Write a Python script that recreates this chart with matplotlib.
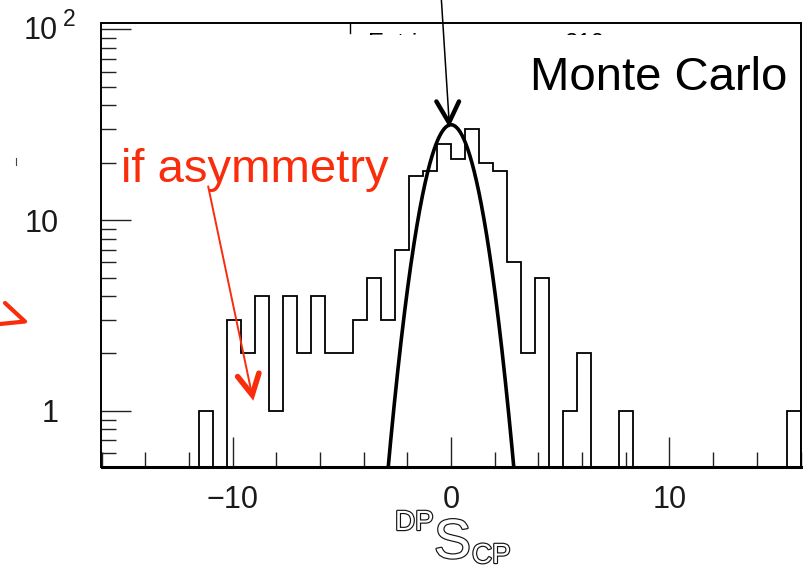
import numpy as np
import matplotlib
matplotlib.use("Agg")
import matplotlib.pyplot as plt
from matplotlib.lines import Line2D
from matplotlib.patches import Rectangle
from matplotlib.transforms import IdentityTransform
from matplotlib.ticker import FixedLocator, MultipleLocator, LogLocator, NullFormatter
import matplotlib.patheffects as pe

# ---------------- data ----------------
x_low = -16.0
x_high = 16.0
n_bins = 50
counts = [0, 0, 0, 0, 0, 0, 0, 1, 0, 3,
          2, 4, 1, 4, 2, 4, 2, 2, 3, 5,
          3, 7, 17, 18, 25, 21, 30, 20, 18, 6,
          2, 5, 0, 1, 2, 0, 0, 1, 0, 0,
          0, 0, 0, 0, 0, 0, 0, 0, 0, 1]
gauss_amp = 31.6
gauss_mean = 0.0
gauss_sigma = 1.0
y_low = 0.508
y_high = 107.5
x_major = [-10, 0, 10]
x_major_labels = ["\u221210", "0", "10"]
y_major = [1, 10, 100]
y_major_labels = ["1", "10", ""]

W, H = 809, 570
plt.rcParams["font.family"] = ["Liberation Sans", "DejaVu Sans"]

fig = plt.figure(figsize=(W / 100, H / 100), dpi=100)
fig.patch.set_facecolor("white")
L, R, T, B = 101.5, 800.5, 23.3, 467.0
ax = fig.add_axes([L / W, 1 - B / H, (R - L) / W, (B - T) / H])
ax.set_yscale("log")
ax.set_xlim(x_low, x_high)
ax.set_ylim(y_low, y_high)

edges = np.linspace(x_low, x_high, n_bins + 1)
vals = np.maximum(np.array(counts, dtype=float), y_low)
ax.stairs(vals, edges, baseline=y_low, color="black", lw=1.3, zorder=3)

xs = np.linspace(x_low, x_high, 2000)
ys = gauss_amp * np.exp(-0.5 * ((xs - gauss_mean) / gauss_sigma) ** 2)
ax.plot(xs, ys, color="black", lw=2.6, zorder=4)

# axes styling
for s in ["top", "left", "right"]:
    ax.spines[s].set_linewidth(1.4)
ax.spines["bottom"].set_linewidth(2.2)

ax.xaxis.set_major_locator(FixedLocator(x_major))
ax.set_xticklabels(x_major_labels)
ax.xaxis.set_minor_locator(MultipleLocator(2))
ax.yaxis.set_major_locator(FixedLocator(y_major))
ax.set_yticklabels(y_major_labels)
ax.yaxis.set_minor_locator(LogLocator(base=10, subs=np.arange(2, 10)))
ax.yaxis.set_minor_formatter(NullFormatter())

ax.tick_params(axis="both", which="both", direction="in", color="#222222", width=1.0,
               top=False, right=False)
ax.tick_params(axis="both", which="major", length=21.6, labelsize=22, labelcolor="#1a1a1a")
ax.tick_params(axis="both", which="minor", length=10.5)
ax.tick_params(axis="x", which="major", pad=13)
ax.tick_params(axis="y", which="major", pad=31)

ident = IdentityTransform()

# 10^2 label
fig.text(57.5 / W, 1 - 31 / H, "10", fontsize=22, color="#1a1a1a", ha="right", va="center")
fig.text(62.5 / W, 1 - 26.5 / H, "2", fontsize=16.5, color="#1a1a1a", ha="left", va="baseline")

# obscured stats box fragments
fig.text(368 / W, 1 - 49.5 / H, "Entries", fontsize=17.3, color="black", ha="left",
         va="baseline", zorder=5)
fig.text(605 / W, 1 - 49.5 / H, "210", fontsize=17.3, color="black", ha="right",
         va="baseline", zorder=5)
fig.add_artist(Rectangle((356, H - 60), 270, 25.5, transform=ident,
                         facecolor="white", edgecolor="none", zorder=6))
fig.add_artist(Line2D([350, 350], [H - 24, H - 33], transform=ident, color="black",
                      lw=1.0, zorder=7))

# Monte Carlo label
fig.text(530 / W, 1 - 90 / H, "Monte Carlo", fontsize=34, color="black", ha="left",
         va="baseline", zorder=7)

# red annotation text
red = "#f92d0c"
fig.text(121 / W, 1 - 182 / H, "if asymmetry", fontsize=34, color=red, ha="left",
         va="baseline", zorder=7)

# black arrow to gaussian peak
tx, ty = ax.transData.transform((gauss_mean, gauss_amp))
tip = (tx - 2, ty + 2)
fig.add_artist(Line2D([tip[0] - 7.6, tip[0]], [H, tip[1] + 3], transform=ident,
                      color="black", lw=1.1, zorder=8))
fig.add_artist(Line2D([tip[0] - 12.6, tip[0], tip[0] + 10],
                      [tip[1] + 21.3, tip[1], tip[1] + 21.3], transform=ident,
                      color="black", lw=3.2, solid_capstyle="round",
                      solid_joinstyle="miter", zorder=8))

# red arrow
rx, ry = ax.transData.transform((-9.1, 1.213))
fig.add_artist(Line2D([rx - 44, rx - 1], [ry + 208.3, ry + 4], transform=ident,
                      color=red, lw=1.4, zorder=8))
fig.add_artist(Line2D([rx - 14.6, rx, rx + 6.7], [ry + 18.3, ry, ry + 21.7],
                      transform=ident, color=red, lw=4.0, solid_capstyle="round",
                      solid_joinstyle="miter", zorder=8))

# stray fragments at the left margin
fig.add_artist(Line2D([16, 16], [H - 158, H - 165], transform=ident, color="#444444",
                      lw=0.8, zorder=8))
fig.add_artist(Line2D([5, 25, 0], [H - 303, H - 321.5, H - 324], transform=ident,
                      color=red, lw=3.0, solid_capstyle="round", zorder=8))

# outlined x label: DP S CP
outline = [pe.Stroke(linewidth=1.7, foreground="#151515"), pe.Normal()]
lab = dict(family="Liberation Sans", color="white", ha="left", va="baseline",
           path_effects=outline)
fig.text(395 / W, 1 - 530 / H, "DP", fontsize=20, **lab)
fig.text(434 / W, 1 - 558 / H, "S", fontsize=40, **lab)
fig.text(472 / W, 1 - 563 / H, "CP", fontsize=20, **lab)

fig.savefig("out.png", dpi=100, facecolor="white")
